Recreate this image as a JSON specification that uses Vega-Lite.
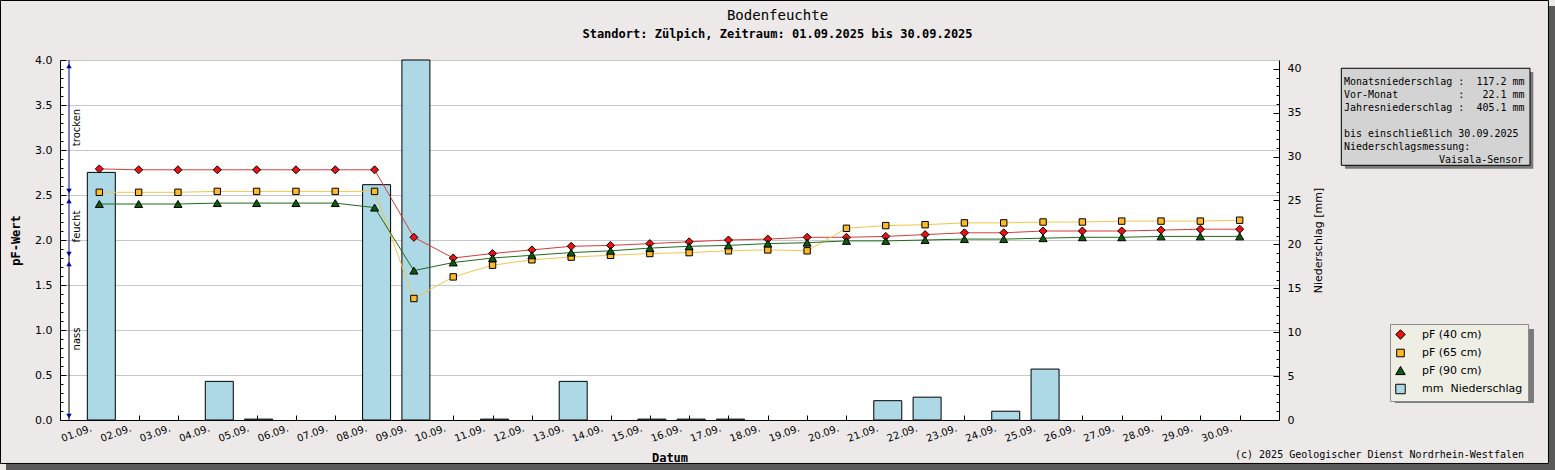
{
  "$schema": "https://vega.github.io/schema/vega-lite/v6.json",
  "width": 1219,
  "height": 360,
  "autosize": {"type": "none"},
  "padding": {"left": 60, "top": 60, "right": 276, "bottom": 50},
  "background": "#ece9e8",
  "title": {
    "text": "Bodenfeuchte",
    "subtitle": "Standort: Zülpich, Zeitraum: 01.09.2025 bis 30.09.2025",
    "anchor": "middle",
    "frame": "group",
    "dx": 108,
    "offset": -40,
    "font": "DejaVu Sans Mono",
    "fontSize": 14,
    "fontWeight": "normal",
    "color": "black",
    "subtitleFont": "DejaVu Sans Mono",
    "subtitleFontSize": 12,
    "subtitleFontWeight": "bold",
    "subtitleColor": "black",
    "subtitlePadding": 6
  },
  "datasets": {
    "boden": [
      {"tag": 1, "pf40": 2.79, "pf65": 2.53, "pf90": 2.40, "mm": 28.2},
      {"tag": 2, "pf40": 2.78, "pf65": 2.53, "pf90": 2.40, "mm": 0},
      {"tag": 3, "pf40": 2.78, "pf65": 2.53, "pf90": 2.40, "mm": 0},
      {"tag": 4, "pf40": 2.78, "pf65": 2.54, "pf90": 2.41, "mm": 4.4},
      {"tag": 5, "pf40": 2.78, "pf65": 2.54, "pf90": 2.41, "mm": 0.1},
      {"tag": 6, "pf40": 2.78, "pf65": 2.54, "pf90": 2.41, "mm": 0},
      {"tag": 7, "pf40": 2.78, "pf65": 2.54, "pf90": 2.41, "mm": 0},
      {"tag": 8, "pf40": 2.78, "pf65": 2.54, "pf90": 2.36, "mm": 26.8},
      {"tag": 9, "pf40": 2.03, "pf65": 1.35, "pf90": 1.66, "mm": 41.0},
      {"tag": 10, "pf40": 1.80, "pf65": 1.59, "pf90": 1.75, "mm": 0},
      {"tag": 11, "pf40": 1.85, "pf65": 1.72, "pf90": 1.80, "mm": 0.1},
      {"tag": 12, "pf40": 1.89, "pf65": 1.78, "pf90": 1.83, "mm": 0},
      {"tag": 13, "pf40": 1.93, "pf65": 1.81, "pf90": 1.86, "mm": 4.4},
      {"tag": 14, "pf40": 1.94, "pf65": 1.83, "pf90": 1.88, "mm": 0},
      {"tag": 15, "pf40": 1.96, "pf65": 1.85, "pf90": 1.91, "mm": 0.1},
      {"tag": 16, "pf40": 1.98, "pf65": 1.86, "pf90": 1.93, "mm": 0.1},
      {"tag": 17, "pf40": 2.00, "pf65": 1.88, "pf90": 1.94, "mm": 0.1},
      {"tag": 18, "pf40": 2.01, "pf65": 1.89, "pf90": 1.96, "mm": 0},
      {"tag": 19, "pf40": 2.03, "pf65": 1.88, "pf90": 1.97, "mm": 0},
      {"tag": 20, "pf40": 2.03, "pf65": 2.13, "pf90": 1.99, "mm": 0},
      {"tag": 21, "pf40": 2.04, "pf65": 2.16, "pf90": 1.99, "mm": 2.2},
      {"tag": 22, "pf40": 2.06, "pf65": 2.17, "pf90": 2.00, "mm": 2.6},
      {"tag": 23, "pf40": 2.08, "pf65": 2.19, "pf90": 2.01, "mm": 0},
      {"tag": 24, "pf40": 2.08, "pf65": 2.19, "pf90": 2.01, "mm": 1.0},
      {"tag": 25, "pf40": 2.10, "pf65": 2.20, "pf90": 2.02, "mm": 5.8},
      {"tag": 26, "pf40": 2.10, "pf65": 2.20, "pf90": 2.03, "mm": 0},
      {"tag": 27, "pf40": 2.10, "pf65": 2.21, "pf90": 2.03, "mm": 0},
      {"tag": 28, "pf40": 2.11, "pf65": 2.21, "pf90": 2.04, "mm": 0},
      {"tag": 29, "pf40": 2.12, "pf65": 2.21, "pf90": 2.04, "mm": 0},
      {"tag": 30, "pf40": 2.12, "pf65": 2.22, "pf90": 2.04, "mm": 0}
    ],
    "zonen": [
      {"zone": "trocken", "von": 2.5, "bis": 4.0},
      {"zone": "feucht", "von": 1.8, "bis": 2.5},
      {"zone": "nass", "von": 0, "bis": 1.8}
    ]
  },
  "data": {"name": "boden"},
  "layer": [
    {
      "transform": [{"filter": "datum.mm > 0"}],
      "mark": {"type": "bar", "size": 28, "stroke": "black", "strokeWidth": 1, "xOffset": 2},
      "encoding": {
        "x": {
          "field": "tag",
          "type": "quantitative",
          "title": "Datum",
          "scale": {"domain": [0, 31], "nice": false, "padding": 0},
          "axis": {
            "values": [1,2,3,4,5,6,7,8,9,10,11,12,13,14,15,16,17,18,19,20,21,22,23,24,25,26,27,28,29,30],
            "labelExpr": "(datum.value < 10 ? '0' : '') + datum.value + '.09.'",
            "labelAngle": -20,
            "labelAlign": "right",
            "labelBaseline": "top",
            "labelFontSize": 10,
            "labelPadding": 8,
            "labelOffset": -10,
            "labelOverlap": false,
            "tickSize": -5,
            "grid": false,
            "titleFont": "DejaVu Sans Mono",
            "titleFontWeight": "bold",
            "titleFontSize": 12,
            "titlePadding": 9
          }
        },
        "y": {
          "field": "mm",
          "type": "quantitative",
          "title": "Niederschlag [mm]",
          "scale": {"domain": [0, 41], "nice": false},
          "axis": {
            "orient": "right",
            "values": [0,1,2,3,4,5,6,7,8,9,10,11,12,13,14,15,16,17,18,19,20,21,22,23,24,25,26,27,28,29,30,31,32,33,34,35,36,37,38,39,40],
            "labelExpr": "datum.value % 5 == 0 ? datum.value : ''",
            "tickSize": {"condition": {"test": "datum.value % 5 == 0", "value": -6}, "value": -3},
            "labelPadding": 14,
            "labelOverlap": false,
            "grid": false,
            "titleAngle": 270,
            "titleBaseline": "top",
            "titleFont": "DejaVu Sans",
            "titleFontWeight": "normal",
            "titleFontSize": 11,
            "titlePadding": 12
          }
        },
        "color": {"datum": "mm", "type": "nominal"}
      }
    },
    {
      "resolve": {"axis": {"y": "independent"}},
      "layer": [
        {
          "data": {"values": [{}]},
          "mark": {"type": "rect", "fill": "#595959"},
          "encoding": {
            "x": {"datum": 37.866}, "x2": {"datum": 38.02},
            "y": {"datum": 4.6, "axis": null}, "y2": {"datum": -0.556}
          }
        },
        {
          "data": {"values": [{}]},
          "mark": {"type": "rect", "fill": "#595959"},
          "encoding": {
            "x": {"datum": -1.373}, "x2": {"datum": 38.02},
            "y": {"datum": -0.489, "axis": null}, "y2": {"datum": -0.556}
          }
        },
        {
          "data": {"values": [{}]},
          "mark": {"type": "rect", "fill": "transparent", "stroke": "black", "strokeWidth": 1},
          "encoding": {
            "x": {"datum": -1.513}, "x2": {"datum": 37.853},
            "y": {"datum": 4.661, "axis": null}, "y2": {"datum": -0.483}
          }
        },
        {
          "data": {"name": "zonen"},
          "mark": {"type": "rule", "strokeWidth": 1},
          "encoding": {
            "x": {"datum": 0.229},
            "y": {"field": "von", "type": "quantitative", "axis": null},
            "y2": {"field": "bis"},
            "stroke": {"condition": {"test": "datum.zone === 'nass'", "value": "black"}, "value": "#00008b"}
          }
        },
        {
          "data": {"name": "zonen"},
          "mark": {"type": "point", "shape": "triangle-up", "filled": true, "fill": "#0000a8", "size": 30, "opacity": 1, "yOffset": 6},
          "encoding": {
            "x": {"datum": 0.229},
            "y": {"field": "bis", "type": "quantitative", "axis": null}
          }
        },
        {
          "data": {"name": "zonen"},
          "mark": {"type": "point", "shape": "triangle-down", "filled": true, "fill": "#0000a8", "size": 30, "opacity": 1, "yOffset": -4},
          "encoding": {
            "x": {"datum": 0.229},
            "y": {"field": "von", "type": "quantitative", "axis": null}
          }
        },
        {
          "data": {"name": "zonen"},
          "transform": [{"fold": ["von", "bis"], "as": ["grenze", "wert"]}],
          "mark": {"type": "text", "angle": 270, "font": "DejaVu Sans", "fontSize": 10, "color": "black", "align": "center", "baseline": "middle"},
          "encoding": {
            "x": {"datum": 0.42},
            "y": {"aggregate": "mean", "field": "wert", "type": "quantitative", "axis": null},
            "text": {"field": "zone"}
          }
        },
        {
          "transform": [{"fold": ["pf40", "pf65", "pf90"], "as": ["serie", "pf"]}],
          "mark": {"type": "line", "strokeWidth": 1},
          "encoding": {
            "x": {"field": "tag", "type": "quantitative"},
            "y": {
              "field": "pf",
              "type": "quantitative",
              "title": "pF-Wert",
              "scale": {"domain": [0, 4], "nice": false},
              "axis": {
                "orient": "left",
                "values": [0,0.1,0.2,0.3,0.4,0.5,0.6,0.7,0.8,0.9,1,1.1,1.2,1.3,1.4,1.5,1.6,1.7,1.8,1.9,2,2.1,2.2,2.3,2.4,2.5,2.6,2.7,2.8,2.9,3,3.1,3.2,3.3,3.4,3.5,3.6,3.7,3.8,3.9,4],
                "labelExpr": "(datum.value * 10) % 5 == 0 ? format(datum.value, '.1f') : ''",
                "tickSize": {"condition": {"test": "(datum.value * 10) % 5 == 0", "value": -6}, "value": -3},
                "gridOpacity": {"condition": {"test": "(datum.value * 10) % 5 == 0", "value": 1}, "value": 0},
                "grid": true,
                "gridColor": "#c8c8c8",
                "labelOverlap": false,
                "labelPadding": 14,
                "titleFont": "DejaVu Sans Mono",
                "titleFontWeight": "bold",
                "titleFontSize": 12,
                "titlePadding": 12
              }
            },
            "stroke": {
              "field": "serie",
              "type": "nominal",
              "scale": {"domain": ["pf40", "pf65", "pf90"], "range": ["#d63c3c", "#f2c64b", "#1f6b1f"]},
              "legend": null
            }
          }
        },
        {
          "transform": [{"fold": ["pf40", "pf65", "pf90"], "as": ["serie", "pf"]}],
          "mark": {"type": "point", "filled": true, "size": 64, "stroke": "black", "strokeWidth": 1, "opacity": 1},
          "encoding": {
            "x": {"field": "tag", "type": "quantitative"},
            "y": {"field": "pf", "type": "quantitative", "axis": null},
            "color": {
              "field": "serie",
              "type": "nominal",
              "scale": {"domain": ["pf40", "pf65", "pf90", "mm"], "range": ["#ee1111", "#fdb927", "#0c5c0c", "#add8e6"]},
              "legend": {
                "title": null,
                "orient": "none",
                "legendX": 1330,
                "legendY": 264,
                "padding": 5,
                "rowPadding": 4.5,
                "labelOffset": 16,
                "labelExpr": "datum.value == 'pf40' ? 'pF (40 cm)' : datum.value == 'pf65' ? 'pF (65 cm)' : datum.value == 'pf90' ? 'pF (90 cm)' : 'mm\u00a0\u00a0Niederschlag'",
                "encode": {"symbols": {"update": {"stroke": {"value": "black"}, "strokeWidth": {"value": 1}}}}
              }
            },
            "shape": {
              "field": "serie",
              "type": "nominal",
              "scale": {"domain": ["pf40", "pf65", "pf90", "mm"], "range": ["diamond", "M-0.8,-0.8L0.8,-0.8L0.8,0.8L-0.8,0.8Z", "triangle-up", "square"]},
              "legend": {
                "title": null,
                "orient": "none",
                "legendX": 1330,
                "legendY": 264,
                "padding": 5,
                "rowPadding": 4.5,
                "labelOffset": 16,
                "labelExpr": "datum.value == 'pf40' ? 'pF (40 cm)' : datum.value == 'pf65' ? 'pF (65 cm)' : datum.value == 'pf90' ? 'pF (90 cm)' : 'mm\u00a0\u00a0Niederschlag'",
                "encode": {"symbols": {"update": {"stroke": {"value": "black"}, "strokeWidth": {"value": 1}}}}
              }
            }
          }
        },
        {
          "data": {"values": [{}]},
          "mark": {"type": "rect", "fill": "#7a7a7a"},
          "encoding": {
            "x": {"datum": 32.678}, "x2": {"datum": 37.467},
            "y": {"datum": 3.867, "axis": null}, "y2": {"datum": 2.792}
          }
        },
        {
          "data": {"values": [{}]},
          "mark": {"type": "rect", "fill": "#d3d3d3", "stroke": "black", "strokeWidth": 1},
          "encoding": {
            "x": {"datum": 32.585}, "x2": {"datum": 37.383},
            "y": {"datum": 3.908, "axis": null}, "y2": {"datum": 2.830}
          }
        },
        {
          "data": {"values": [{}]},
          "mark": {"type": "text", "font": "DejaVu Sans Mono", "fontSize": 10, "color": "black", "align": "left", "baseline": "top", "lineHeight": 13},
          "encoding": {
            "x": {"datum": 32.652},
            "y": {"datum": 3.806, "axis": null},
            "text": {"value": [
              "Monatsniederschlag\u00a0:\u00a0\u00a0117.2\u00a0mm",
              "Vor-Monat\u00a0\u00a0\u00a0\u00a0\u00a0\u00a0\u00a0\u00a0\u00a0\u00a0:\u00a0\u00a0\u00a022.1\u00a0mm",
              "Jahresniederschlag\u00a0:\u00a0\u00a0405.1\u00a0mm"
            ]}
          }
        },
        {
          "data": {"values": [{}]},
          "mark": {"type": "text", "font": "DejaVu Sans Mono", "fontSize": 10, "color": "black", "align": "left", "baseline": "top", "lineHeight": 13},
          "encoding": {
            "x": {"datum": 32.652},
            "y": {"datum": 3.228, "axis": null},
            "text": {"value": ["bis einschließlich 30.09.2025", "Niederschlagsmessung:"]}
          }
        },
        {
          "data": {"values": [{}]},
          "mark": {"type": "text", "font": "DejaVu Sans Mono", "fontSize": 10, "color": "black", "align": "right", "baseline": "top"},
          "encoding": {
            "x": {"datum": 37.213},
            "y": {"datum": 2.939, "axis": null},
            "text": {"value": "Vaisala-Sensor"}
          }
        },
        {
          "data": {"values": [{}]},
          "mark": {"type": "rect", "fill": "#7a7a7a"},
          "encoding": {
            "x": {"datum": 33.949}, "x2": {"datum": 37.484},
            "y": {"datum": 1.011, "axis": null}, "y2": {"datum": 0.189}
          }
        },
        {
          "data": {"values": [{}]},
          "mark": {"type": "text", "font": "DejaVu Sans Mono", "fontSize": 10, "color": "black", "align": "right", "baseline": "middle"},
          "encoding": {
            "x": {"datum": 37.23},
            "y": {"datum": -0.389, "axis": null},
            "text": {"value": "(c) 2025 Geologischer Dienst Nordrhein-Westfalen"}
          }
        }
      ]
    }
  ],
  "resolve": {"scale": {"y": "independent"}},
  "config": {
    "font": "DejaVu Sans",
    "view": {"fill": "white", "stroke": null},
    "axis": {
      "labelFont": "DejaVu Sans",
      "labelFontSize": 11,
      "labelColor": "black",
      "domainColor": "black",
      "tickColor": "black",
      "titleColor": "black",
      "labelFlush": false,
      "labelOverlap": false,
      "labelBound": false
    },
    "legend": {
      "fillColor": "#eeeee4",
      "strokeColor": "#8c8c8c",
      "padding": 5,
      "rowPadding": 4.5,
      "symbolSize": 90,
      "symbolStrokeColor": "black",
      "symbolStrokeWidth": 1,
      "symbolOpacity": 1,
      "labelFont": "DejaVu Sans",
      "labelFontSize": 11,
      "labelColor": "black",
      "labelOffset": 16
    }
  }
}
